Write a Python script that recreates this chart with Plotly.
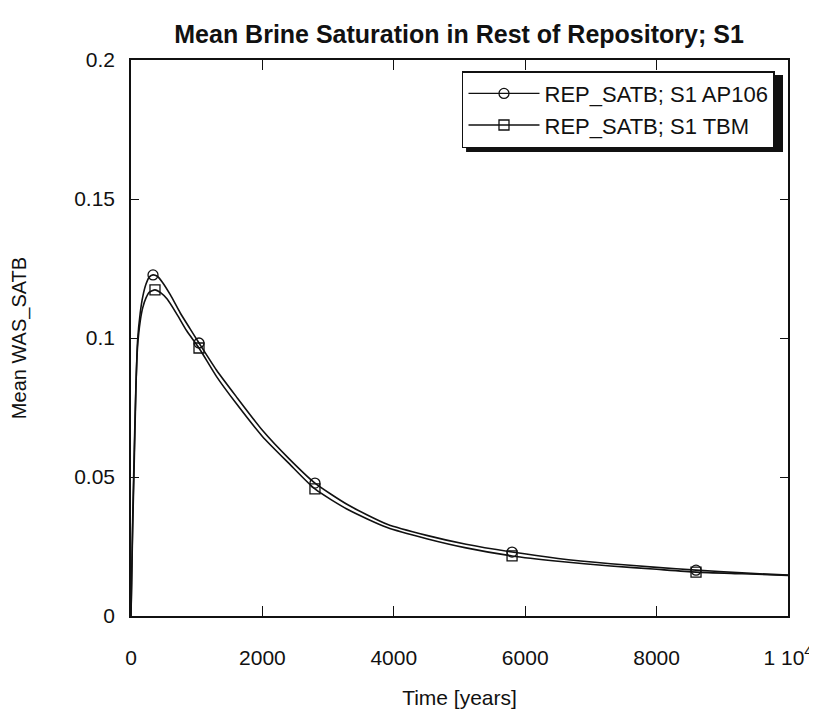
import plotly.graph_objects as go

# Time [years]
ap_t = [0, 10, 25, 50, 75, 100, 140, 180, 230, 280, 335, 400, 480, 600, 750, 900, 1035,
        1300, 1600, 2000, 2400, 2800, 3300, 3900, 4500, 5100, 5800, 6500, 7300, 8000,
        8600, 9300, 10000]
ap_v = [0.0, 0.012, 0.031, 0.056, 0.082, 0.099, 0.109, 0.115, 0.1195, 0.122, 0.1227,
        0.1222, 0.1200, 0.1155, 0.1090, 0.1033, 0.0982, 0.0885, 0.0790, 0.0668, 0.0567,
        0.0478, 0.0400, 0.0330, 0.0290, 0.0258, 0.0230, 0.0207, 0.0188, 0.0175, 0.0165,
        0.0155, 0.0147]
ap_marker_idx = [10, 16, 21, 26, 30]

tbm_t = [0, 10, 25, 50, 75, 100, 140, 180, 230, 280, 365, 450, 550, 700, 850, 1035,
         1300, 1600, 2000, 2400, 2800, 3300, 3900, 4500, 5100, 5800, 6500, 7300, 8000,
         8600, 9300, 10000]
tbm_v = [0.0, 0.014, 0.034, 0.060, 0.083, 0.097, 0.106, 0.111, 0.1145, 0.1165, 0.1173,
         0.1163, 0.1140, 0.1085, 0.1025, 0.0964, 0.0862, 0.0765, 0.0646, 0.0550, 0.0457,
         0.0383, 0.0318, 0.0278, 0.0245, 0.0216, 0.0197, 0.0180, 0.0168, 0.0158, 0.0152,
         0.0146]
tbm_marker_idx = [10, 15, 20, 25, 29]

x_tickvals = [0, 2000, 4000, 6000, 8000, 10000]
x_ticktext = ["0", "2000", "4000", "6000", "8000", "1 10<sup>4</sup>"]
y_tickvals = [0, 0.05, 0.1, 0.15, 0.2]
y_ticktext = ["0", "0.05", "0.1", "0.15", "0.2"]

names = ["REP_SATB; S1 AP106", "REP_SATB; S1 TBM"]

FONT = "Liberation Sans, Arial, sans-serif"
BLACK = "#111111"

fig = go.Figure()

series = [
    (ap_t, ap_v, ap_marker_idx, "circle-open", names[0]),
    (tbm_t, tbm_v, tbm_marker_idx, "square-open", names[1]),
]
for t, v, idx, sym, name in series:
    fig.add_trace(go.Scatter(
        x=t, y=v, mode="lines", line=dict(color=BLACK, width=1.6, shape="spline", smoothing=0.6),
        showlegend=False, hoverinfo="skip"))
    fig.add_trace(go.Scatter(
        x=[t[i] for i in idx], y=[v[i] for i in idx], mode="markers",
        marker=dict(symbol=sym, size=10, color=BLACK, line=dict(width=1.3, color=BLACK)),
        showlegend=False))
for t, v, idx, sym, name in series:
    fig.add_trace(go.Scatter(
        x=[None], y=[None], mode="lines+markers", name=name,
        line=dict(color=BLACK, width=1.3),
        marker=dict(symbol=sym, size=10, color=BLACK, line=dict(width=1.3, color=BLACK))))

axis_common = dict(
    showline=True, linecolor=BLACK, linewidth=1.6, mirror="allticks",
    ticks="inside", tickcolor=BLACK, tickwidth=1.3,
    showgrid=False, zeroline=False,
    tickfont=dict(family=FONT, size=21, color=BLACK),
)

# legend drop shadow (paper coordinates)
fig.add_shape(type="rect", xref="paper", yref="paper",
              x0=0.510, x1=0.9924, y0=0.8345, y1=0.973,
              fillcolor=BLACK, line=dict(width=0), layer="above")

fig.update_layout(
    width=809, height=705,
    paper_bgcolor="white", plot_bgcolor="white",
    margin=dict(l=123, r=29, t=52, b=97, autoexpand=False),
    title=dict(text="<b>Mean Brine Saturation in Rest of Repository; S1</b>",
               font=dict(family=FONT, size=25, color=BLACK),
               x=0.5575, xanchor="center", y=0.963, yanchor="middle"),
    xaxis=dict(range=[0, 10000], tickvals=x_tickvals, ticktext=x_ticktext,
               ticklen=10, ticklabelstandoff=22,
               title=dict(text="Time [years]", font=dict(family=FONT, size=21, color=BLACK),
                          standoff=22),
               **axis_common),
    yaxis=dict(range=[0, 0.2], tickvals=y_tickvals, ticktext=y_ticktext,
               ticklen=8, ticklabelstandoff=10,
               title=dict(text="Mean WAS_SATB", font=dict(family=FONT, size=20, color=BLACK),
                          standoff=42),
               **axis_common),
    legend=dict(x=0.5038, y=0.980, xanchor="left", yanchor="top",
                bgcolor="white", bordercolor=BLACK, borderwidth=1.5,
                font=dict(family=FONT, size=22, color=BLACK),
                itemwidth=71, tracegroupgap=0),
    font=dict(family=FONT, color=BLACK),
)

fig.write_html("out.html")
